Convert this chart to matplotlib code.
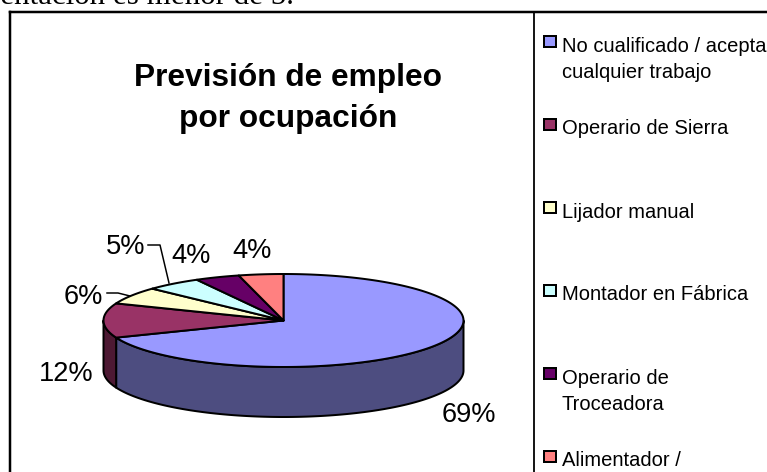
import numpy as np
import matplotlib
matplotlib.use("Agg")
import matplotlib.pyplot as plt
from matplotlib.patches import Polygon, Rectangle

W, H = 767, 472
categories = ["No cualificado / acepta\ncualquier trabajo", "Operario de Sierra", "Lijador manual",
              "Montador en Fábrica", "Operario de\nTroceadora", "Alimentador /"]
values = [69, 12, 6, 5, 4, 4]
labels = ["69%", "12%", "6%", "5%", "4%", "4%"]
colors = ["#9999FF", "#993366", "#FFFFCC", "#CCFFFF", "#660066", "#FF8080"]
side_colors = ["#4D4D80", "#4D1933", "#808066", "#668080", "#330033", "#804040"]
title_lines = ["Previsión de empleo", "por ocupación"]
top_text = "mentación es menor de 5."

plt.rcParams["font.family"] = ["Liberation Sans"]
fig = plt.figure(figsize=(W / 100, H / 100), dpi=100, facecolor="white")
ax = fig.add_axes([0, 0, 1, 1])
ax.set_xlim(0, W)
ax.set_ylim(H, 0)
ax.axis("off")

PX = 0.72
cx, cy, rx, ry, depth = 283.5, 320.5, 180, 46.5, 50
lw = 2 * PX


def pt(t):
    t = np.asarray(t)
    return cx + rx * np.sin(t), cy - ry * np.cos(t)


edges = np.deg2rad(np.cumsum([0] + values) * 3.6)

# side walls
for i in range(len(values)):
    a, b = edges[i], edges[i + 1]
    lo, hi = max(a, np.pi / 2), min(b, 3 * np.pi / 2)
    if lo < hi:
        t = np.linspace(lo, hi, 200)
        x, y = pt(t)
        xy = np.r_[np.c_[x, y], np.c_[x[::-1], y[::-1] + depth]]
        ax.add_patch(Polygon(xy, closed=True, fc=side_colors[i], ec="black", lw=lw, joinstyle="round", zorder=2))

# top faces
for i in range(len(values)):
    t = np.linspace(edges[i], edges[i + 1], 200)
    x, y = pt(t)
    xy = np.r_[[[cx, cy]], np.c_[x, y]]
    ax.add_patch(Polygon(xy, closed=True, fc=colors[i], ec="black", lw=lw, joinstyle="round", zorder=3))

# percentage labels (x centre, baseline y)
label_pos = [(469, 422.5), (66, 381), (83, 304), (125.5, 254), (191.5, 263), (252, 258)]
for s, (x, y) in zip(labels, label_pos):
    ax.text(x, y, s, fontsize=27.3 * PX, ha="center", va="baseline", color="black", zorder=5)

# leader lines
ax.plot([107, 118, 130], [293, 293, 296], color="black", lw=1.5 * PX, zorder=2.5)
ax.plot([148, 160, 169], [245, 245, 283], color="black", lw=1.5 * PX, zorder=2.5)

# frame
ax.plot([9.5, 9.5], [H, 12], color="black", lw=2.5 * PX, zorder=1, solid_capstyle="projecting")
ax.plot([9.5, W], [12, 12], color="black", lw=2.5 * PX, zorder=1)
ax.plot([534, 534], [12, H], color="black", lw=1.8 * PX, zorder=1)

# title
for s, y in zip(title_lines, [86, 127]):
    ax.text(288, y, s, fontsize=31.7 * PX, fontweight="bold", ha="center", va="baseline")

# text above the frame, cut by the top edge
ax.text(-24, 4.5, top_text, family="Liberation Serif", fontsize=31 * PX, ha="left", va="baseline")

# legend
for i, (c, s) in enumerate(zip(colors, categories)):
    y0 = 41 + 83 * i
    ax.add_patch(Rectangle((543.5, y0 - 5.5), 12, 11, fc=c, ec="black", lw=2 * PX, zorder=3))
    for j, line in enumerate(s.split("\n")):
        ax.text(562, y0 + 10.5 + 26 * j, line, fontsize=20.2 * PX, ha="left", va="baseline", color="black")

fig.savefig("out.png", dpi=100)
